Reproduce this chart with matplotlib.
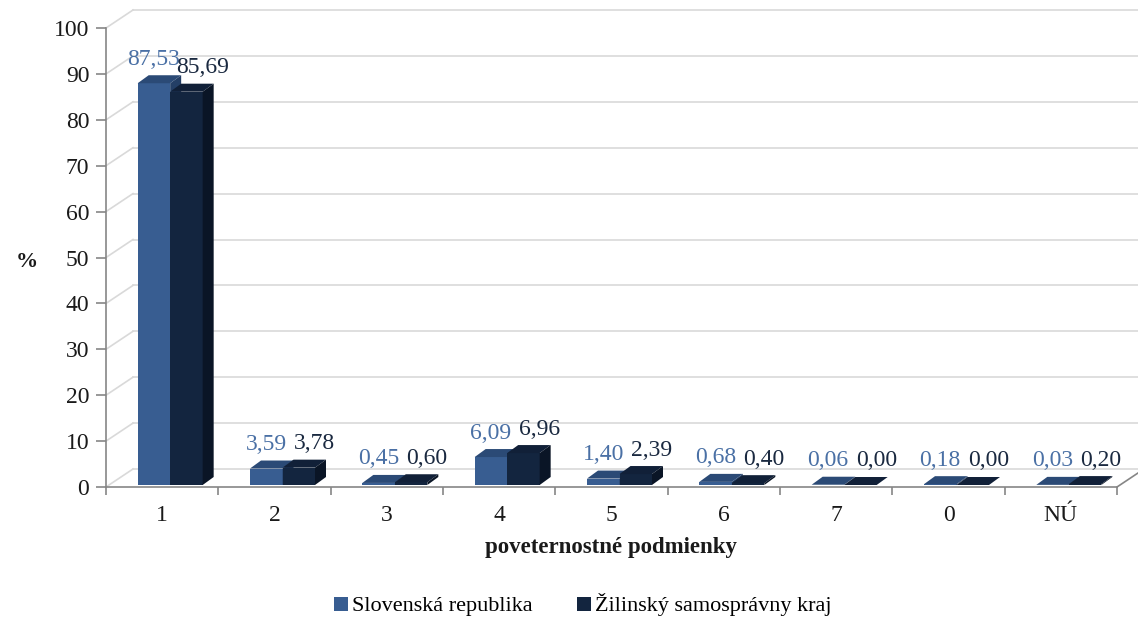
import matplotlib
matplotlib.use("Agg")
import matplotlib.pyplot as plt
from matplotlib.patches import Polygon, Patch

categories = ["1", "2", "3", "4", "5", "6", "7", "0", "NÚ"]
series_names = ["Slovenská republika", "Žilinský samosprávny kraj"]
sr_values = [87.53, 3.59, 0.45, 6.09, 1.40, 0.68, 0.06, 0.18, 0.03]
zsk_values = [85.69, 3.78, 0.60, 6.96, 2.39, 0.40, 0.00, 0.00, 0.20]
y_ticks = list(range(0, 101, 10))

plt.rcParams['font.family'] = ['Liberation Serif', 'DejaVu Serif']

W, H = 1138, 622
fig = plt.figure(figsize=(W / 100, H / 100), dpi=100)
x0, x1, y0, y1 = 106, 1117, 487, 28
ax = fig.add_axes([x0 / W, (H - y0) / H, (x1 - x0) / W, (y0 - y1) / H])
n = len(categories)
ax.set_xlim(0, n)
ax.set_ylim(0, 100)
ppx = (x1 - x0) / n      # pixels per category
ppy = (y0 - y1) / 100.0  # pixels per unit


def dx(p):
    return p / ppx


def dy(p):
    return p / ppy


grid_c = "#D9D9D9"
axis_c = "#868686"
WX, WY = 27, 18

# back wall gridlines + diagonals
for t in y_ticks:
    ax.plot([dx(WX), dx(W - x0 + 5)], [t + dy(WY), t + dy(WY)], color=grid_c, lw=1.2,
            clip_on=False, zorder=0)
    ax.plot([0, dx(WX)], [t, t + dy(WY)], color=grid_c, lw=1.2, clip_on=False, zorder=0)
# floor right edge
ax.plot([n, n + dx(WX)], [0, dy(WY)], color=axis_c, lw=1.2, clip_on=False, zorder=1)

# bars
colors = [
    dict(front="#385D91", top="#2B4A76", side="#243F66", label="#4A70A5"),
    dict(front="#13253F", top="#112038", side="#0A1526", label="#1A2940"),
]
BW, DXp, DYp = 32.5, 11, 8
label_dx = [0, 16]
for s, vals in enumerate([sr_values, zsk_values]):
    col = colors[s]
    lefts = [i + 0.5 + dx(-24.5 + s * BW) for i in range(n)]
    bottom = dy(2)
    ax.bar(lefts, vals, width=dx(BW), bottom=bottom, align="edge",
           color=col["front"], edgecolor="none", zorder=3 + s, clip_on=False)
    for l, v in zip(lefts, vals):
        t = bottom + v
        w = dx(BW)
        top = Polygon([(l, t), (l + w, t), (l + w + dx(DXp), t + dy(DYp)), (l + dx(DXp), t + dy(DYp))],
                      closed=True, facecolor=col["top"], edgecolor="none", zorder=3 + s, clip_on=False)
        side = Polygon([(l + w, bottom), (l + w + dx(DXp), bottom + dy(DYp)),
                        (l + w + dx(DXp), t + dy(DYp)), (l + w, t)],
                       closed=True, facecolor=col["side"], edgecolor="none", zorder=3 + s, clip_on=False)
        ax.add_patch(top)
        ax.add_patch(side)
        ax.annotate(f"{v:.2f}".replace(".", ","), xy=(l + w / 2, t), xytext=(label_dx[s], 24),
                    textcoords="offset pixels", ha="center", va="center",
                    fontsize=17, color=col["label"], zorder=10, annotation_clip=False)

# axes styling
for sp in ["top", "right"]:
    ax.spines[sp].set_visible(False)
ax.spines["left"].set_color(axis_c)
ax.spines["bottom"].set_color(axis_c)
ax.spines["left"].set_linewidth(1.2)
ax.spines["bottom"].set_linewidth(1.2)
ax.set_facecolor("none")
ax.set_yticks(y_ticks)
ax.set_yticklabels([str(t) for t in y_ticks])
ax.tick_params(axis="y", length=7, width=1.2, color=axis_c, labelsize=17, pad=5,
               labelcolor="#1a1a1a")
ax.set_xticks([i + 0.5 for i in range(n)])
ax.set_xticklabels(categories)
ax.set_xticks(list(range(n + 1)), minor=True)
ax.tick_params(axis="x", which="major", length=0, labelsize=17, pad=13, labelcolor="#1a1a1a")
ax.tick_params(axis="x", which="minor", length=6, width=1.2, color=axis_c)

fig.text(611 / W, 1 - 548 / H, "poveternostné podmienky", ha="center", va="center",
         fontsize=16.5, fontweight="bold", color="#1a1a1a")
fig.text(27 / W, 1 - 262 / H, "%", ha="center", va="center",
         fontsize=16, fontweight="bold", color="#1a1a1a")

handles = [Patch(facecolor=colors[0]["front"]), Patch(facecolor=colors[1]["front"])]
fig.legend(handles, series_names, loc="center", bbox_to_anchor=(583 / W, 1 - 605 / H),
           ncol=2, frameon=False, fontsize=16, handlelength=0.6, handleheight=0.6,
           handletextpad=0.2, columnspacing=2.0)

fig.savefig("out.png", dpi=100, facecolor="white")
